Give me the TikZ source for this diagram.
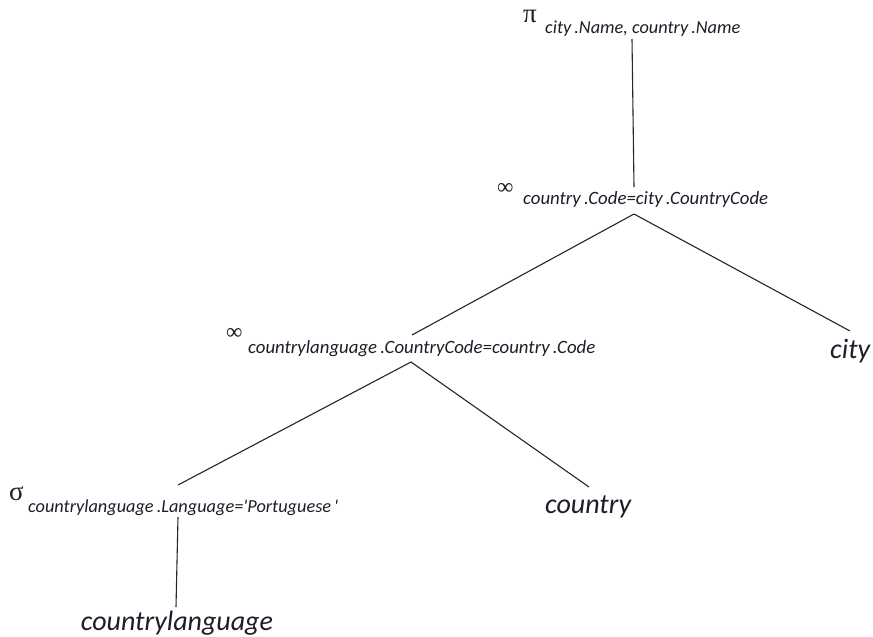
\documentclass[tikz,border=0pt]{standalone}
\usepackage{fontspec}
\setmainfont{Carlito}
\newfontfamily\symf{Liberation Serif}
\definecolor{ink}{HTML}{1E1E2A}
\begin{document}
\begin{tikzpicture}[x=1pt,y=-1pt,
  op/.style={inner sep=0pt, anchor=base west, text=ink, font=\symf\fontsize{27}{27}\selectfont},
  jn/.style={inner sep=0pt, anchor=base west, text=ink, font=\symf\fontsize{23}{23}\selectfont},
  sub/.style={inner sep=0pt, anchor=base west, text=ink, font=\itshape\fontsize{18.3}{18}\selectfont},
  wsub/.style={sub, font=\itshape\fontsize{18.8}{18}\selectfont},
  leaf/.style={inner sep=0pt, anchor=base west, text=ink, font=\itshape\fontsize{28}{28}\selectfont},
  edge/.style={line width=1.1pt, draw=black!85}]
\useasboundingbox[fill=white] (0,0) rectangle (873,637);

% projection
\node[op]  (pi)    at (523,23)  {π};
\node[sub] (pisub) at (545,34)  {city\,.Name, country\,.Name};
% join 1
\node[jn]  (j1)    at (497,194) {∞};
\node[wsub] (j1sub) at (523,204) {country\,.Code=city\,.CountryCode};
% join 2
\node[jn]  (j2)    at (226,339) {∞};
\node[wsub] (j2sub) at (248,353) {countrylanguage\,.CountryCode=country\,.Code};
% selection
\node[op]  (sg)    at (9,500)   {σ};
\node[sub] (sgsub) at (28,512)  {countrylanguage\,.Language=\textquotesingle Portuguese\,\textquotesingle};
% relations
\node[leaf] (city)    at (830,358) {city};
\node[leaf] (country) at (545,513) {country};
\node[leaf, anchor=base] (cl) at (177,630) {countrylanguage};

% connection points
\coordinate (pi-b)  at (632,39);
\coordinate (j1-t)  at (634,187);
\coordinate (j1-b)  at (634,214);
\coordinate (j2-t)  at (412,335);
\coordinate (j2-b)  at (411,362);
\coordinate (city-t) at (850,331);
\coordinate (sg-t)  at (178,485);
\coordinate (sg-b)  at (178,517);
\coordinate (co-t)  at (589,487);
\coordinate (cl-t)  at (176,607);

\draw[edge] (pi-b) -- (j1-t);
\draw[edge] (j1-b) -- (j2-t);
\draw[edge] (j1-b) -- (city-t);
\draw[edge] (j2-b) -- (sg-t);
\draw[edge] (j2-b) -- (co-t);
\draw[edge] (sg-b) -- (cl-t);
\end{tikzpicture}
\end{document}
